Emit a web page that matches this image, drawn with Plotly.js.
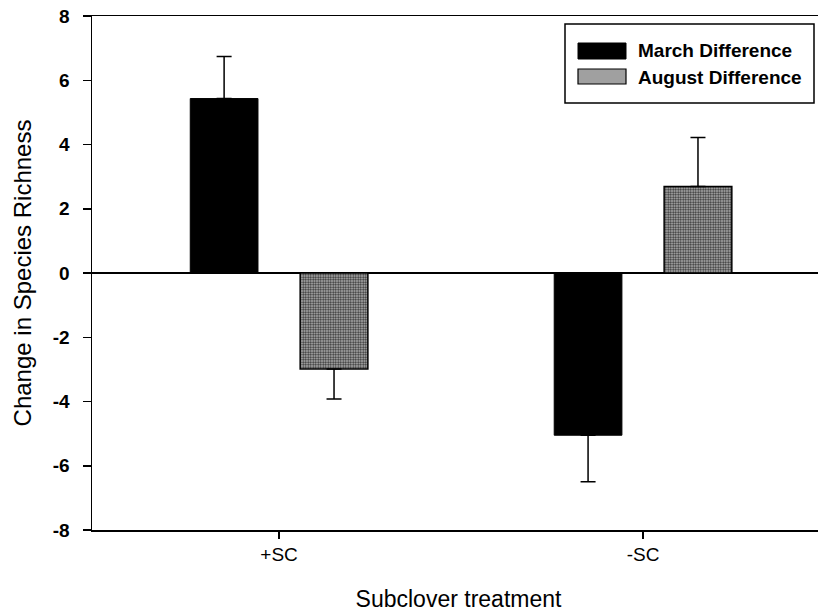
<!DOCTYPE html>
<html><head><meta charset="utf-8">
<script src="https://cdn.plot.ly/plotly-3.0.1.min.js"></script>
<style>html,body{margin:0;padding:0;overflow:hidden;background:#fff}#chart{width:840px;height:616px}</style>
</head><body><div id="chart"></div>
<script>
const categories = ['+SC', '-SC'];
const seriesNames = ['March Difference', 'August Difference'];
const marchValues = [5.43, -5.05];
const augustValues = [-2.99, 2.69];
const marchErrors = [1.31, 1.45];
const augustErrors = [0.93, 1.53];
const yTicks = [-8, -6, -4, -2, 0, 2, 4, 6, 8];

const FONT = 'Liberation Sans, Arial, Helvetica, sans-serif';
function errs(vals, e) {
  return {type: 'data', symmetric: false,
    array: vals.map((v, i) => v >= 0 ? e[i] : 0),
    arrayminus: vals.map((v, i) => v < 0 ? e[i] : 0),
    color: '#000', thickness: 1.5, width: 7.5};
}
const traces = [
  {type: 'bar', name: seriesNames[0], x: categories, y: marchValues,
   marker: {color: '#000', line: {color: '#000', width: 1}},
   error_y: errs(marchValues, marchErrors), showlegend: false},
  {type: 'bar', name: seriesNames[1], x: categories, y: augustValues,
   marker: {color: '#9c9c9c', line: {color: '#000', width: 1.5},
     pattern: {shape: '.', fgcolor: '#303030', bgcolor: '#bdbdbd', size: 2.5, solidity: 0.5, fillmode: 'replace'}},
   error_y: errs(augustValues, augustErrors), showlegend: false}
];

// plot area in pixels: left 92, right 825, top 16, bottom 530
const PL = 92, PW = 733, PT = 16, PH = 514;
const px = x => (x - PL) / PW;
const py = y => (PT + PH - y) / PH;

const shapes = [
  {type: 'rect', xref: 'paper', yref: 'paper', x0: px(565), x1: px(814), y0: py(103), y1: py(24),
   line: {color: '#000', width: 1.5}, fillcolor: '#fff'},
  {type: 'rect', xref: 'paper', yref: 'paper', x0: px(578), x1: px(626), y0: py(59), y1: py(43),
   line: {color: '#000', width: 1}, fillcolor: '#000'},
  {type: 'rect', xref: 'paper', yref: 'paper', x0: px(578), x1: px(626), y0: py(84), y1: py(69),
   line: {color: '#000', width: 1.2}, fillcolor: '#a0a0a0'}
];
const annotations = [
  {xref: 'paper', yref: 'paper', x: px(636), y: py(51), xanchor: 'left', yanchor: 'middle', showarrow: false,
   text: seriesNames[0], font: {family: FONT, size: 19, color: '#000', weight: 'bold'}},
  {xref: 'paper', yref: 'paper', x: px(636), y: py(77), xanchor: 'left', yanchor: 'middle', showarrow: false,
   text: seriesNames[1], font: {family: FONT, size: 19, color: '#000', weight: 'bold'}}
];

const layout = {
  width: 840, height: 616,
  margin: {l: PL, r: 840 - PL - PW, t: PT, b: 616 - PT - PH},
  paper_bgcolor: '#fff', plot_bgcolor: '#fff',
  font: {family: FONT, color: '#000'},
  barmode: 'group', bargap: 0.396, bargroupgap: 0.384,
  showlegend: false,
  xaxis: {type: 'category', range: [-0.514, 1.5], showline: true, linecolor: '#000', linewidth: 1.5,
    mirror: true, ticks: 'outside', ticklen: 7, tickwidth: 1.5, tickcolor: '#000',
    showgrid: false, zeroline: false,
    tickfont: {family: FONT, size: 19, color: '#000'},
    title: {text: 'Subclover treatment', font: {family: FONT, size: 23, color: '#000'}, standoff: 26}},
  xaxis2: {overlaying: 'x', anchor: 'y', side: 'bottom', type: 'linear', range: [-0.514, 1.5],
    tickvals: [0, 1], ticks: 'inside', ticklen: 7, tickwidth: 1.5, tickcolor: '#000',
    showticklabels: false, showline: false, showgrid: false, zeroline: false},
  yaxis: {range: [-8, 8], tickvals: yTicks, ticktext: yTicks.map(String), showline: true, linecolor: '#000',
    linewidth: 1.5, mirror: true, ticks: 'outside', ticklen: 8, tickwidth: 1.5, tickcolor: '#000',
    ticklabelstandoff: 9,
    showgrid: false, zeroline: true, zerolinecolor: '#000', zerolinewidth: 1.5,
    tickfont: {family: FONT, size: 19, color: '#000', weight: 'bold'},
    title: {text: 'Change in Species Richness', font: {family: FONT, size: 24, color: '#000'}, standoff: 14}},
  shapes: shapes, annotations: annotations
};
Plotly.newPlot('chart', traces, layout, {displayModeBar: false, staticPlot: true});
</script></body></html>
